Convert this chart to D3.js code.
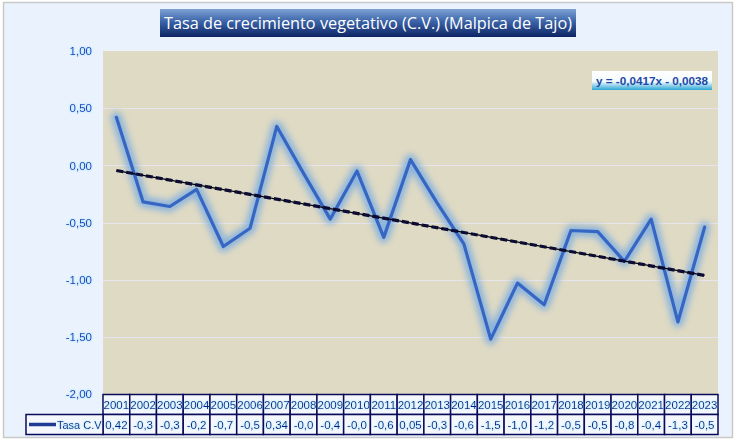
<!DOCTYPE html>
<html>
<head>
<meta charset="utf-8">
<script src="https://cdn.jsdelivr.net/npm/d3@7"></script>
<style>
  body { margin: 0; background: #ffffff; }
  svg { display: block; }
</style>
</head>
<body>
<div id="chart"></div>
<script>
// Datos
var years = ["2001", "2002", "2003", "2004", "2005", "2006", "2007", "2008", "2009", "2010", "2011", "2012",
  "2013", "2014", "2015", "2016", "2017", "2018", "2019", "2020", "2021", "2022", "2023"];
var tasaCV = [0.42, -0.32, -0.36, -0.21, -0.71, -0.55, 0.34, -0.07, -0.47, -0.05, -0.63, 0.05,
  -0.33, -0.69, -1.52, -1.03, -1.22, -0.57, -0.58, -0.84, -0.47, -1.37, -0.54];
var yTicks = [1, 0.5, 0, -0.5, -1, -1.5, -2];
var trendSlope = -0.0417;
var trendIntercept = -0.0038;
var titulo = "Tasa de crecimiento vegetativo (C.V.) (Malpica de Tajo)";
var serieNombre = "Tasa C.V";

var width = 736;
var height = 441;
var plot = { left: 103, right: 718, top: 51, bottom: 394 };

// formato espanol con guion normal
var es = d3.formatLocale({ decimal: ",", thousands: ".", grouping: [3], currency: ["", " €"], minus: "-" });
var f2 = es.format(".2f");
var f4 = es.format(".4f");

var svg = d3.select("#chart")
  .append("svg")
  .attr("width", width)
  .attr("height", height);

var defs = svg.append("defs");

// degradado del titulo
var gTitle = defs.append("linearGradient")
  .attr("id", "gradTitle")
  .attr("x1", "0%").attr("y1", "0%").attr("x2", "0%").attr("y2", "100%");
gTitle.append("stop").attr("offset", "0%").attr("stop-color", "#7da3d4");
gTitle.append("stop").attr("offset", "45%").attr("stop-color", "#3b63a8");
gTitle.append("stop").attr("offset", "100%").attr("stop-color", "#0d2463");

// degradado de la etiqueta de la ecuacion
var gEq = defs.append("linearGradient")
  .attr("id", "gradEq")
  .attr("x1", "0%").attr("y1", "0%").attr("x2", "0%").attr("y2", "100%");
gEq.append("stop").attr("offset", "0%").attr("stop-color", "#ffffff");
gEq.append("stop").attr("offset", "55%").attr("stop-color", "#f4fafd");
gEq.append("stop").attr("offset", "100%").attr("stop-color", "#2aa6d6");

// resplandor de la linea
var glow = defs.append("filter")
  .attr("id", "glow")
  .attr("x", "-10%").attr("y", "-10%").attr("width", "120%").attr("height", "120%");
glow.append("feGaussianBlur").attr("stdDeviation", 3);

// resplandor del texto
var tglow = defs.append("filter")
  .attr("id", "tglow")
  .attr("x", "-20%").attr("y", "-30%").attr("width", "140%").attr("height", "160%");
tglow.append("feGaussianBlur").attr("in", "SourceAlpha").attr("stdDeviation", 0.9).attr("result", "b");
tglow.append("feFlood").attr("flood-color", "#5fd0ff").attr("flood-opacity", 0.7);
tglow.append("feComposite").attr("in2", "b").attr("operator", "in").attr("result", "g");
var tm = tglow.append("feMerge");
tm.append("feMergeNode").attr("in", "g");
tm.append("feMergeNode").attr("in", "SourceGraphic");

// fondo del grafico
svg.append("rect")
  .attr("x", 3.5).attr("y", 2.5)
  .attr("width", 729).attr("height", 435)
  .attr("fill", "#eaf3fd")
  .attr("stroke", "#c9c9c9")
  .attr("stroke-width", 1.5);

// Escalas
var x = d3.scaleBand().domain(years).range([plot.left, plot.right]);
var y = d3.scaleLinear().domain([-2, 1]).range([plot.bottom, plot.top]);

// area de trazado
svg.append("rect")
  .attr("x", plot.left).attr("y", plot.top)
  .attr("width", plot.right - plot.left).attr("height", plot.bottom - plot.top)
  .attr("fill", "#dfdac3");

// lineas de cuadricula
svg.append("g")
  .selectAll("line")
  .data(yTicks.filter(function (d) { return d > -2 && d < 1; }))
  .join("line")
  .attr("x1", plot.left).attr("x2", plot.right)
  .attr("y1", function (d) { return Math.round(y(d)) + 0.5; })
  .attr("y2", function (d) { return Math.round(y(d)) + 0.5; })
  .attr("stroke", "#e6e4ee")
  .attr("stroke-width", 1);

// eje Y
var yAxis = d3.axisLeft(y)
  .tickValues(yTicks)
  .tickSize(0)
  .tickPadding(0)
  .tickFormat(f2);

var gy = svg.append("g")
  .attr("transform", "translate(92,0)")
  .call(yAxis);
gy.select(".domain").remove();
gy.selectAll("text")
  .attr("font-family", "'Liberation Sans', Arial, sans-serif")
  .attr("font-size", "11.5px")
  .attr("fill", "#1a3fc0")
  .attr("filter", "url(#tglow)");

// serie
var line = d3.line()
  .x(function (d, i) { return x(years[i]) + x.bandwidth() / 2; })
  .y(function (d) { return y(d); });

svg.append("path")
  .datum(tasaCV)
  .attr("d", line)
  .attr("fill", "none")
  .attr("stroke", "#78aae2")
  .attr("stroke-width", 11)
  .attr("stroke-linejoin", "round")
  .attr("stroke-linecap", "round")
  .attr("opacity", 0.8)
  .attr("filter", "url(#glow)");

svg.append("path")
  .datum(tasaCV)
  .attr("d", line)
  .attr("fill", "none")
  .attr("stroke", "#3666c4")
  .attr("stroke-width", 3.2)
  .attr("stroke-linejoin", "round")
  .attr("stroke-linecap", "round");

// linea de tendencia
var trendData = [1, years.length].map(function (n) {
  return { year: years[n - 1], v: trendSlope * n + trendIntercept };
});
var trendLine = d3.line()
  .x(function (d) { return x(d.year) + x.bandwidth() / 2; })
  .y(function (d) { return y(d.v); });

svg.append("path")
  .datum(trendData)
  .attr("d", trendLine)
  .attr("stroke", "#000000")
  .attr("stroke-width", 1.2)
  .attr("fill", "none");
svg.append("path")
  .datum(trendData)
  .attr("d", trendLine)
  .attr("stroke", "#0b0b33")
  .attr("stroke-width", 3.2)
  .attr("stroke-dasharray", "7,3")
  .attr("fill", "none");

// etiqueta de la ecuacion
svg.append("rect")
  .attr("x", 592).attr("y", 71)
  .attr("width", 120).attr("height", 19)
  .attr("fill", "url(#gradEq)");
svg.append("text")
  .attr("x", 652).attr("y", 84.5)
  .attr("text-anchor", "middle")
  .attr("font-family", "'Liberation Sans', Arial, sans-serif")
  .attr("font-size", "11px")
  .attr("font-weight", "bold")
  .attr("fill", "#2148a8")
  .attr("textLength", 112)
  .attr("lengthAdjust", "spacingAndGlyphs")
  .text("y = " + f4(trendSlope) + "x - " + f4(Math.abs(trendIntercept)));

// titulo
svg.append("rect")
  .attr("x", 160).attr("y", 9)
  .attr("width", 416).attr("height", 28)
  .attr("fill", "url(#gradTitle)");
svg.append("text")
  .attr("x", 368).attr("y", 29)
  .attr("text-anchor", "middle")
  .attr("font-family", "'Open Sans', sans-serif")
  .attr("font-size", "17px")
  .attr("fill", "#ffffff")
  .attr("textLength", 408)
  .attr("lengthAdjust", "spacingAndGlyphs")
  .text(titulo);

// tabla de datos
var rowTop = 394.5;
var rowH = 20;
var legendLeft = 26;
var tableColor = "#0a0a5a";
var cellFont = "'Liberation Sans', Arial, sans-serif";

// Valor como lo muestra la celda estrecha (recortado a 4 caracteres)
function cellText(v) {
  return f2(v).slice(0, 4);
}

var table = svg.append("g");

table.selectAll("rect.head")
  .data(years)
  .join("rect")
  .attr("class", "head")
  .attr("x", function (d) { return x(d); })
  .attr("y", rowTop)
  .attr("width", x.bandwidth())
  .attr("height", rowH)
  .attr("fill", "#f4f8fd")
  .attr("stroke", tableColor)
  .attr("stroke-width", 1.5);

table.selectAll("rect.val")
  .data(years)
  .join("rect")
  .attr("class", "val")
  .attr("x", function (d) { return x(d); })
  .attr("y", rowTop + rowH)
  .attr("width", x.bandwidth())
  .attr("height", rowH)
  .attr("fill", "#f4f8fd")
  .attr("stroke", tableColor)
  .attr("stroke-width", 1.5);

table.append("rect")
  .attr("x", legendLeft)
  .attr("y", rowTop + rowH)
  .attr("width", plot.left - legendLeft)
  .attr("height", rowH)
  .attr("fill", "#f4f8fd")
  .attr("stroke", tableColor)
  .attr("stroke-width", 1.5);

table.selectAll("text.year")
  .data(years)
  .join("text")
  .attr("class", "year")
  .attr("x", function (d) { return x(d) + x.bandwidth() / 2; })
  .attr("y", rowTop + 14.5)
  .attr("text-anchor", "middle")
  .attr("font-family", cellFont)
  .attr("font-size", "11.5px")
  .attr("fill", "#0d1f8a")
  .attr("filter", "url(#tglow)")
  .text(function (d) { return d; });

table.selectAll("text.value")
  .data(tasaCV)
  .join("text")
  .attr("class", "value")
  .attr("x", function (d, i) { return x(years[i]) + x.bandwidth() / 2; })
  .attr("y", rowTop + rowH + 14.5)
  .attr("text-anchor", "middle")
  .attr("font-family", cellFont)
  .attr("font-size", "11.5px")
  .attr("fill", "#0d1f8a")
  .attr("filter", "url(#tglow)")
  .text(function (d) { return cellText(d); });

// leyenda dentro de la tabla
table.append("line")
  .attr("x1", 29).attr("x2", 56)
  .attr("y1", rowTop + rowH + 10).attr("y2", rowTop + rowH + 10)
  .attr("stroke", "#1f3a93")
  .attr("stroke-width", 3.5);
table.append("text")
  .attr("x", 57)
  .attr("y", rowTop + rowH + 14.5)
  .attr("font-family", cellFont)
  .attr("font-size", "11px")
  .attr("fill", "#0d1f8a")
  .attr("filter", "url(#tglow)")
  .text(serieNombre);
</script>
</body>
</html>
